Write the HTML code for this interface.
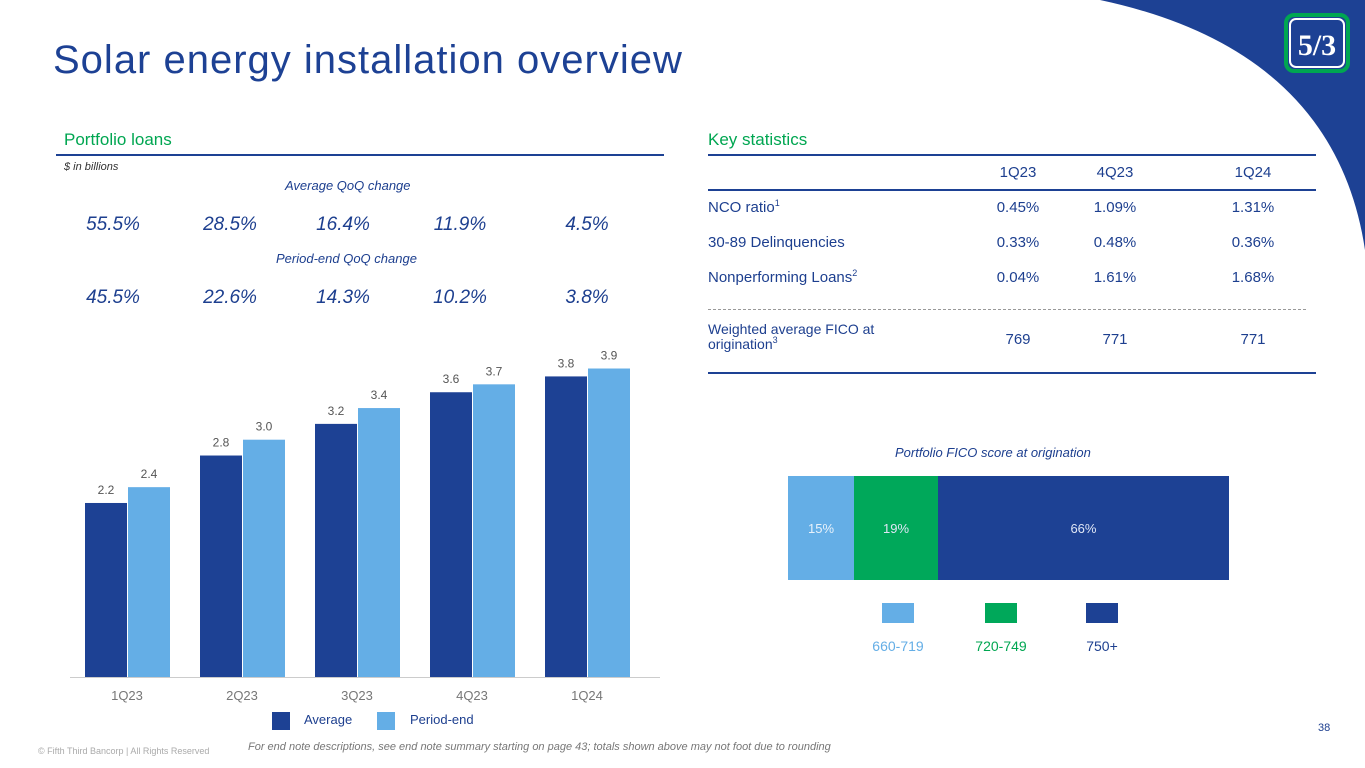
<!DOCTYPE html>
<html><head><meta charset="utf-8"><style>
body{margin:0;width:1365px;height:768px;overflow:hidden;background:#fff;font-family:"Liberation Sans","DejaVu Sans",sans-serif;position:relative}
.a{position:absolute;white-space:nowrap}
.n{color:#1d3f8f}
sup{font-size:9px;line-height:0;vertical-align:6px}
</style></head><body>
<svg class="a" style="left:0;top:0" width="1365" height="768"><path d="M1100,0 Q1335,50 1365,250 L1365,0 Z" fill="#1d4194"/>
<rect x="1286" y="15" width="62" height="56" rx="8" fill="#1d4194" stroke="#00a651" stroke-width="4"/>
<rect x="1290" y="19" width="54" height="48" rx="6" fill="none" stroke="#fff" stroke-width="2"/>
<text x="1317" y="55" font-size="30" font-weight="bold" fill="#fff" text-anchor="middle" font-family="Liberation Serif">5/3</text></svg>
<div class="a" style="left:53px;top:38px;font-size:40px;color:#1d4194;letter-spacing:1px">Solar energy installation overview</div>
<div class="a" style="left:64px;top:130px;font-size:17px;color:#00a651">Portfolio loans</div>
<div class="a" style="left:56px;top:154px;width:608px;height:2px;background:#1d4194"></div>
<div class="a" style="left:64px;top:161px;font-size:11px;font-style:italic;color:#333">$ in billions</div>
<div class="a n" style="left:285px;top:178px;font-size:13px;font-style:italic">Average QoQ change</div>
<div class="a n" style="left:276px;top:251px;font-size:13px;font-style:italic">Period-end QoQ change</div>
<svg class="a" style="left:0;top:0" width="700" height="740" id="bars"></svg>
<div class="a" style="left:272px;top:712px;width:18px;height:18px;background:#1d4194"></div>
<div class="a n" style="left:304px;top:712px;font-size:13px">Average</div>
<div class="a" style="left:377px;top:712px;width:18px;height:18px;background:#64aee6"></div>
<div class="a n" style="left:410px;top:712px;font-size:13px">Period-end</div>
<div class="a" style="left:38px;top:746px;font-size:9px;color:#aaa">© Fifth Third Bancorp | All Rights Reserved</div>
<div class="a" style="left:248px;top:741px;font-size:11px;font-style:italic;color:#777">For end note descriptions, see end note summary starting on page 43; totals shown above may not foot due to rounding</div>
<div class="a n" style="left:1318px;top:722px;font-size:11px">38</div>
<div class="a" style="left:708px;top:130px;font-size:17px;color:#00a651">Key statistics</div>
<div id="tbl"></div>
<div class="a n" style="left:895px;top:445px;font-size:13px;font-style:italic">Portfolio FICO score at origination</div>
<div id="fico"></div>
<script>
var cats=["1Q23","2Q23","3Q23","4Q23","1Q24"];
var avgVals=[2.2,2.8,3.2,3.6,3.8];
var peVals=[2.4,3.0,3.4,3.7,3.9];
var avgChg=["55.5%","28.5%","16.4%","11.9%","4.5%"];
var peChg=["45.5%","22.6%","14.3%","10.2%","3.8%"];
var S="http://www.w3.org/2000/svg",svg=document.getElementById('bars');
function y(v){return 677-v*79.1;}
function gx(i){return 85+i*115;}
function mk(t,at){var e=document.createElementNS(S,t);for(var k in at)e.setAttribute(k,at[k]);svg.appendChild(e);return e;}
function tx(x,yy,s,sz,c,st){var e=mk('text',{x:x,y:yy,'font-size':sz,fill:c,'text-anchor':'middle'});if(st)e.setAttribute('font-style','italic');e.textContent=s;return e;}
var l=mk('line',{x1:70,x2:660,y1:677.5,y2:677.5,stroke:'#ccc'});


var chgX=[113,230,343,460,587];
cats.forEach(function(c,i){
 var x=gx(i);
 var r=mk('rect',{x:x,y:y(avgVals[i]),width:42,height:677-y(avgVals[i]),fill:'#1d4194'});
 
 
 var r2=mk('rect',{x:x+43,y:y(peVals[i]),width:42,height:677-y(peVals[i]),fill:'#64aee6'});
 
 
 tx(x+21,y(avgVals[i])-9,avgVals[i].toFixed(1),12,'#555');
 tx(x+64,y(peVals[i])-9,peVals[i].toFixed(1),12,'#555');
 var t=tx(x+42,700,c,13,'#777');
 
 
 var a=tx(chgX[i],230,avgChg[i],19,'#1d3f8f',1);
 
 
 var p=tx(chgX[i],303,peChg[i],19,'#1d3f8f',1);
 
 
});
var cols=["1Q23","4Q23","1Q24"];
var rowNames=["NCO ratio<sup>1</sup>","30-89 Delinquencies","Nonperforming Loans<sup>2</sup>"];
var rowVals=[["0.45%","1.09%","1.31%"],["0.33%","0.48%","0.36%"],["0.04%","1.61%","1.68%"]];
var fico=["769","771","771"];
var cx=[1018,1115,1253],h='';
h+='<div class="a" style="left:708px;top:154px;width:608px;height:2px;background:#1d4194"></div>';
h+='<div class="a" style="left:708px;top:189px;width:608px;height:2px;background:#1d4194"></div>';
h+='<div class="a" style="left:708px;top:372px;width:608px;height:2px;background:#1d4194"></div>';
h+='<div class="a" style="left:708px;top:309px;width:598px;border-top:1px dashed #999"></div>';
cols.forEach(function(c,j){h+='<div class="a n" style="left:'+(cx[j]-40)+'px;width:80px;text-align:center;top:164px;font-size:15px">'+c+'</div>';});
rowNames.forEach(function(r,i){var t=199+i*35;
 h+='<div class="a n" style="left:708px;top:'+t+'px;font-size:15px">'+r+'</div>';
 rowVals[i].forEach(function(v,j){h+='<div class="a n" style="left:'+(cx[j]-40)+'px;width:80px;text-align:center;top:'+t+'px;font-size:15px">'+v+'</div>';});});
h+='<div class="a n" style="left:708px;top:322px;font-size:14px;line-height:15px">Weighted average FICO at<br>origination<sup>3</sup></div>';
fico.forEach(function(v,j){h+='<div class="a n" style="left:'+(cx[j]-40)+'px;width:80px;text-align:center;top:331px;font-size:15px">'+v+'</div>';});
document.getElementById('tbl').innerHTML=h;
var bands=["660-719","720-749","750+"];
var shares=[15,19,66];
var colors=["#64aee6","#00a85a","#1d4194"];
var lx=[882,985,1086],lc=["#64aee6","#00a651","#1d3f8f"];
var f='',x0=788,W=441;
shares.forEach(function(s,i){var w=W*s/100;
 f+='<div class="a" style="left:'+x0+'px;top:476px;width:'+w+'px;height:104px;background:'+colors[i]+';color:'+(i==0?'#e8f2fb':'#dfe6f5')+';font-size:13px;display:flex;align-items:center;justify-content:center">'+s+'%</div>';
 x0+=w;
 f+='<div class="a" style="left:'+lx[i]+'px;top:603px;width:32px;height:20px;background:'+colors[i]+'"></div>';
 f+='<div class="a" style="left:'+(lx[i]-24)+'px;width:80px;text-align:center;top:638px;font-size:14px;color:'+lc[i]+'">'+bands[i]+'</div>';});
document.getElementById('fico').innerHTML=f;
</script>
</body></html>
